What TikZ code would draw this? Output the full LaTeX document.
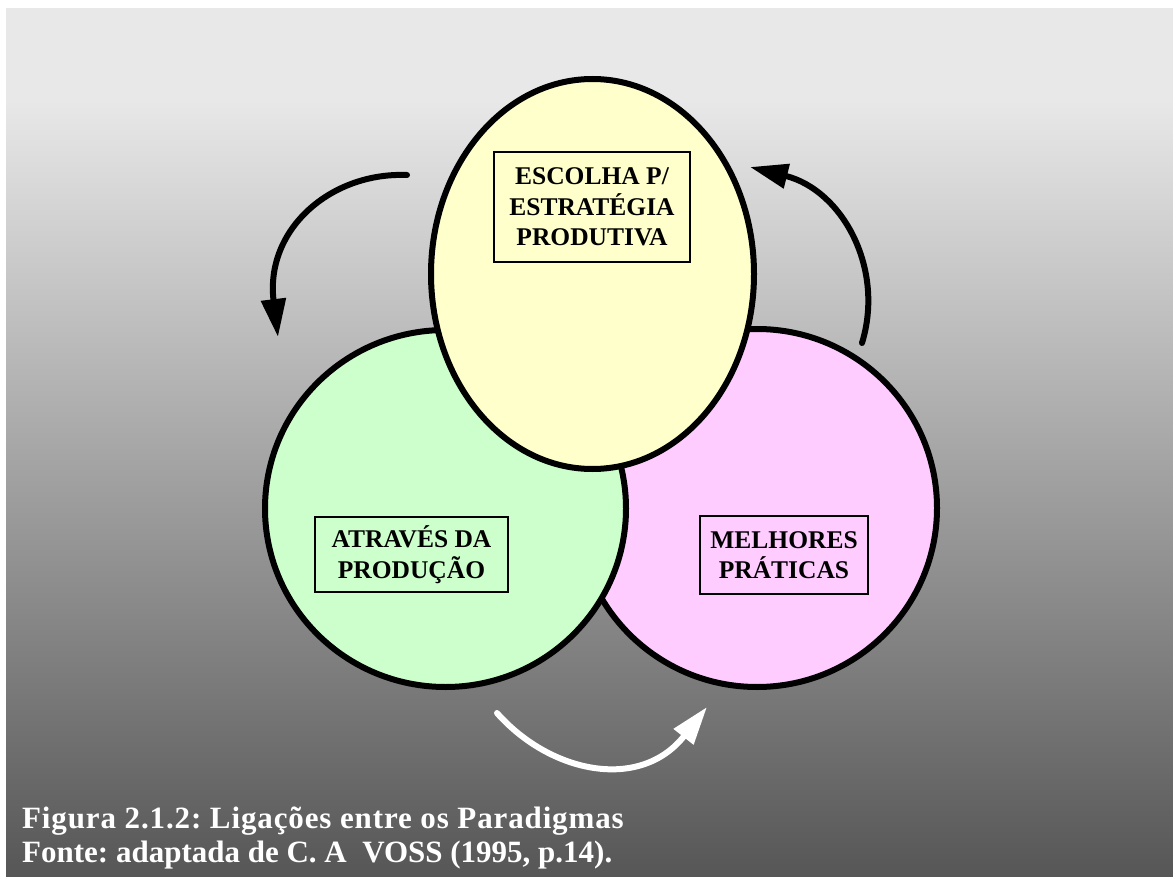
\documentclass[tikz,border=0pt]{standalone}
\usepackage{fontspec}
\setmainfont{Liberation Serif}
\usetikzlibrary{shapes.geometric,arrows.meta}
\definecolor{bgtop}{RGB}{232,232,232}
\definecolor{bgbot}{RGB}{86,86,86}
\definecolor{ylw}{RGB}{255,255,204}
\definecolor{grn}{RGB}{204,255,204}
\definecolor{pnk}{RGB}{255,204,255}
\frenchspacing
\begin{document}
\begin{tikzpicture}[x=1pt,y=-1pt,
  paradigm/.style={ellipse, draw=black, line width=6pt, inner sep=0pt},
  lbl/.style={draw=black, line width=1.5pt, align=center, inner sep=0pt,
    font=\fontsize{25.5}{30.5}\selectfont\bfseries},
  flow/.style={line width=6pt, line cap=round,
    -{Triangle[length=38pt,width=24pt]}},
  caption/.style={anchor=base west, inner sep=0pt, text=white,
    font=\fontsize{31}{34}\selectfont\bfseries}]
% page and graded backdrop
\useasboundingbox (0,0) rectangle (1173,877);
\fill[white] (0,0) rectangle (1173,877);
\fill[bgtop] (6,8) rectangle (1173,101);
\shade[top color=bgtop,bottom color=bgbot] (6,100) rectangle (1173,877);

% the three paradigms (back to front)
\node[paradigm, fill=pnk, minimum width=360pt, minimum height=358pt] (best) at (757,508) {};
\node[paradigm, fill=grn, minimum width=361pt, minimum height=357pt] (prod) at (445.5,508.5) {};
\node[paradigm, fill=ylw, minimum width=323pt, minimum height=390pt] (choice) at (592.5,274) {};

% labels
\node[lbl, fill=ylw, minimum width=196pt, minimum height=110pt] (choicelbl) at (592,207)
  {ESCOLHA P/\\ESTRATÉGIA\\PRODUTIVA};
\node[lbl, fill=grn, minimum width=193pt, minimum height=75pt] (prodlbl) at (411.5,554.5)
  {ATRAVÉS DA\\PRODUÇÃO};
\node[lbl, fill=pnk, minimum width=168pt, minimum height=78pt] (bestlbl) at (784,555)
  {MELHORES\\PRÁTICAS};

% cycle arrows
\coordinate (a1s) at (407,175);
\coordinate (a1e) at (278,337);
\coordinate (a2s) at (862,343);
\coordinate (a2e) at (750,167);
\coordinate (a3s) at (497,713);
\coordinate (a3e) at (707,707);
\draw[flow] (a1s) .. controls (330,172) and (265,230) .. (a1e);
\draw[flow] (a2s) .. controls (885,268) and (842,190) .. (a2e);
\draw[flow, draw=white] (a3s) .. controls (550,773) and (640,792) .. (a3e);

% caption
\node[caption] (fig) at (22,828) {\addfontfeature{LetterSpace=2.8}Figura 2.1.2: Ligações entre os Paradigmas};
\node[caption] (src) at (22,862) {Fonte: adaptada de C. A\ \ VOSS (1995, p.14).};
\end{tikzpicture}
\end{document}
